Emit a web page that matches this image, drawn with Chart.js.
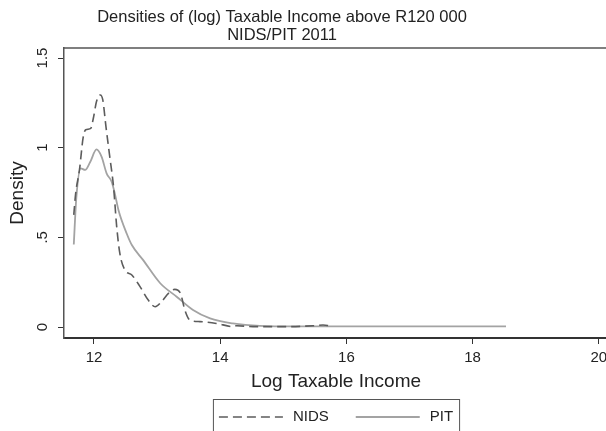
<!DOCTYPE html>
<html>
<head>
<meta charset="utf-8">
<script src="https://cdn.jsdelivr.net/npm/chart.js@4/dist/chart.umd.min.js"></script>
<style>
  html, body { margin: 0; padding: 0; overflow: hidden; background: #fff; }
  #wrap { width: 640px; height: 431px; }
</style>
</head>
<body>
<div id="wrap"><canvas id="densityChart" width="640" height="431"></canvas></div>
<script>
var ctx = document.getElementById('densityChart').getContext('2d')

var titleLines = ['Densities of (log) Taxable Income above R120 000', 'NIDS/PIT 2011']

// NIDS kernel density
var nidsX = [11.68, 11.71, 11.77, 11.83, 11.87, 11.95, 11.99, 12.04, 12.1, 12.14, 12.19, 12.25, 12.31, 12.36, 12.41, 12.49, 12.6, 12.73, 12.86, 12.97, 13.07, 13.18, 13.28, 13.37, 13.44, 13.52, 13.68, 13.94, 14.21, 14.26, 14.52, 15.05, 15.47, 15.63, 15.74]
var nidsY = [0.625, 0.745, 0.876, 1.06, 1.1, 1.108, 1.164, 1.257, 1.294, 1.266, 1.117, 0.95, 0.782, 0.56, 0.41, 0.318, 0.29, 0.225, 0.15, 0.113, 0.141, 0.188, 0.21, 0.188, 0.095, 0.039, 0.03, 0.02, 0.002, 0.007, 0.002, 0.002, 0.007, 0.011, 0.007]

// PIT kernel density
var pitX = [11.68, 11.72, 11.79, 11.86, 11.94, 12.04, 12.12, 12.2, 12.28, 12.33, 12.39, 12.52, 12.6, 12.78, 13.05, 13.31, 13.57, 13.84, 14.2, 14.63, 15.2, 16.0, 17.0, 18.53]
var pitY = [0.46, 0.72, 0.885, 0.876, 0.92, 0.99, 0.95, 0.857, 0.81, 0.745, 0.65, 0.52, 0.457, 0.373, 0.244, 0.169, 0.095, 0.048, 0.02, 0.006, 0.003, 0.003, 0.003, 0.003]

var xTicks = [12, 14, 16, 18, 20]
var yTicks = [0, 0.5, 1, 1.5]
var yTickLabels = ['0', '.5', '1', '1.5']

function toPoints (xs, ys) {
  return xs.map(function (x, i) {
    return { x: x, y: ys[i] }
  })
}

var fontFamily = '"Liberation Sans", Arial, sans-serif'

// two-line title, centred like the original
var titlePlugin = {
  id: 'stataTitle',
  afterDraw: function (chart) {
    var c = chart.ctx
    c.save()
    c.fillStyle = '#222'
    c.font = '16.5px ' + fontFamily
    c.textAlign = 'center'
    c.textBaseline = 'middle'
    c.fillText(titleLines[0], 282, 17)
    c.fillText(titleLines[1], 282, 35)
    c.restore()
  }
}

// top and right sides of the plot frame
var framePlugin = {
  id: 'frame',
  beforeDatasetsDraw: function (chart) {
    var a = chart.chartArea
    var c = chart.ctx
    c.save()
    c.strokeStyle = '#555'
    c.lineWidth = 1.5
    c.beginPath()
    c.moveTo(a.left, a.top)
    c.lineTo(a.right, a.top)
    c.lineTo(a.right, a.bottom)
    c.stroke()
    c.restore()
  }
}

// boxed legend below the axis title
var legendPlugin = {
  id: 'boxLegend',
  afterDraw: function (chart) {
    var c = chart.ctx
    var a = chart.chartArea
    var sets = chart.data.datasets
    c.save()
    c.font = '15px ' + fontFamily
    var pad = 6, lineLen = 64, gap = 10, itemGap = 27
    var total = pad * 2
    sets.forEach(function (ds, i) {
      total += lineLen + gap + c.measureText(ds.label).width
      if (i > 0) total += itemGap
    })
    var left = (a.left + a.right) / 2 - total / 2
    var top = 399
    var h = 37
    c.strokeStyle = '#555'
    c.lineWidth = 1
    c.strokeRect(left + 0.5, top + 0.5, total, h)
    var x = left + pad
    var y = top + 18
    sets.forEach(function (ds, i) {
      if (i > 0) x += itemGap
      c.strokeStyle = ds.borderColor
      c.lineWidth = ds.borderWidth
      c.setLineDash(ds.borderDash || [])
      c.beginPath()
      c.moveTo(x, y)
      c.lineTo(x + lineLen, y)
      c.stroke()
      c.setLineDash([])
      x += lineLen + gap
      c.fillStyle = '#222'
      c.textAlign = 'left'
      c.textBaseline = 'middle'
      c.fillText(ds.label, x, y)
      x += c.measureText(ds.label).width
    })
    c.restore()
  }
}

var densityChart = new Chart(ctx, {
  type: 'line',
  data: {
    datasets: [
      {
        label: 'NIDS',
        data: toPoints(nidsX, nidsY),
        borderColor: '#5c5c5c',
        borderWidth: 1.6,
        borderDash: [9, 5],
        pointRadius: 0,
        cubicInterpolationMode: 'monotone',
        fill: false
      },
      {
        label: 'PIT',
        data: toPoints(pitX, pitY),
        borderColor: '#a3a3a3',
        borderWidth: 1.8,
        pointRadius: 0,
        cubicInterpolationMode: 'monotone',
        fill: false
      }
    ]
  },
  options: {
    responsive: false,
    animation: false,
    layout: {
      padding: { left: 0, top: 48, right: 32, bottom: 36 }
    },
    plugins: {
      legend: { display: false },
      title: { display: false },
      tooltip: { enabled: false }
    },
    scales: {
      x: {
        type: 'linear',
        min: 11.525,
        max: 20.146,
        afterBuildTicks: function (scale) {
          scale.ticks = xTicks.map(function (v) { return { value: v } })
        },
        afterFit: function (scale) {
          scale.height = 57
        },
        ticks: {
          color: '#222',
          padding: 5,
          maxRotation: 0,
          font: { family: fontFamily, size: 15 }
        },
        grid: {
          drawOnChartArea: false,
          drawTicks: true,
          tickLength: 6,
          color: '#333'
        },
        border: { display: true, color: '#333', width: 2 },
        title: {
          display: true,
          text: 'Log Taxable Income',
          color: '#222',
          padding: { top: 0, bottom: 2 },
          font: { family: fontFamily, size: 19 }
        }
      },
      y: {
        type: 'linear',
        min: -0.0613,
        max: 1.5558,
        afterBuildTicks: function (scale) {
          scale.ticks = yTicks.map(function (v) { return { value: v } })
        },
        afterFit: function (scale) {
          scale.width = 64
        },
        ticks: {
          color: '#222',
          padding: 5,
          minRotation: 90,
          maxRotation: 90,
          crossAlign: 'center',
          font: { family: fontFamily, size: 15 },
          callback: function (value) {
            var i = yTicks.indexOf(value)
            return i >= 0 ? yTickLabels[i] : ''
          }
        },
        grid: {
          drawOnChartArea: false,
          drawTicks: true,
          tickLength: 6,
          color: '#333'
        },
        border: { display: true, color: '#555', width: 1.5 },
        title: {
          display: true,
          text: 'Density',
          color: '#222',
          padding: { top: 6, bottom: 0 },
          font: { family: fontFamily, size: 19 }
        }
      }
    }
  },
  plugins: [titlePlugin, framePlugin, legendPlugin]
})
</script>
</body>
</html>
